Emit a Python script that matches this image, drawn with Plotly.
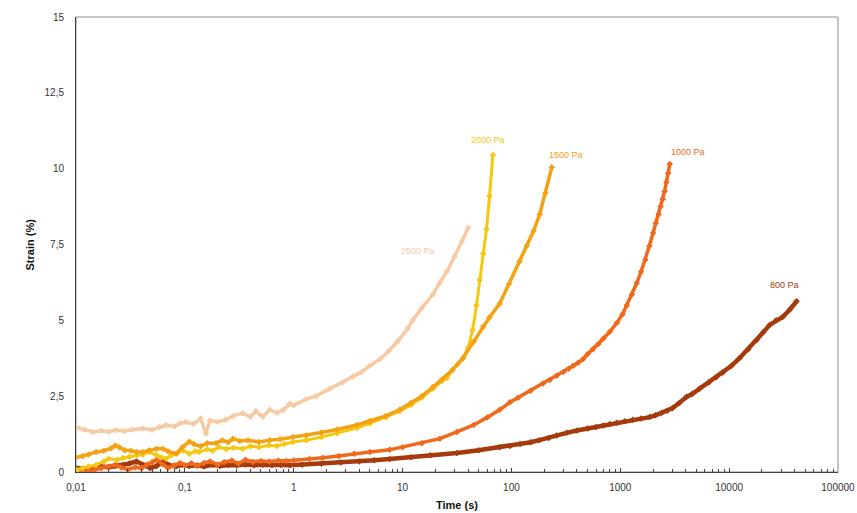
import numpy as np
import plotly.graph_objects as go

# Creep curves: time (s) vs strain (%) for each applied stress
t_2500 = [0.01, 0.012, 0.0143, 0.017, 0.02, 0.0233, 0.028, 0.033, 0.041, 0.05, 0.058, 0.067,
          0.08, 0.09, 0.102, 0.12, 0.14, 0.156, 0.17, 0.2, 0.237, 0.28, 0.34, 0.4, 0.45, 0.52,
          0.6, 0.7, 0.8, 0.92, 1.0, 1.3, 1.6, 2.15, 2.8, 3.5, 4.2, 5.0, 6.2, 7.5, 9, 11.2, 12.4,
          15, 19, 22, 25.5, 30, 35, 40]
s_2500 = [1.48, 1.40, 1.32, 1.36, 1.33, 1.38, 1.35, 1.40, 1.43, 1.39, 1.48, 1.54,
          1.50, 1.60, 1.65, 1.58, 1.76, 1.27, 1.70, 1.66, 1.72, 1.85, 1.94, 1.82, 2.00, 1.82,
          2.05, 1.95, 2.04, 2.25, 2.20, 2.40, 2.50, 2.75, 2.95, 3.15, 3.30, 3.50, 3.72, 4.00,
          4.30, 4.75, 5.00, 5.40, 5.85, 6.25, 6.60, 7.10, 7.60, 8.04]

t_2000 = [0.01, 0.0115, 0.013, 0.0153, 0.018, 0.020, 0.024, 0.027, 0.031, 0.036, 0.041, 0.047,
          0.055, 0.061, 0.067, 0.075, 0.085, 0.096, 0.11, 0.125, 0.135, 0.16, 0.18, 0.205, 0.24,
          0.28, 0.34, 0.4, 0.48, 0.59, 0.7, 0.82, 0.98, 1.3, 1.8, 2.5, 3.8, 5, 7, 9.4, 12, 15,
          19, 23, 25.5, 28.7, 32, 35.8, 40, 44, 47.8, 51, 55, 59, 63, 67.5]
s_2000 = [0.07, 0.12, 0.18, 0.23, 0.35, 0.44, 0.40, 0.46, 0.50, 0.55, 0.58, 0.66,
          0.55, 0.48, 0.44, 0.55, 0.62, 0.71, 0.60, 0.68, 0.66, 0.75, 0.70, 0.82, 0.76,
          0.80, 0.77, 0.85, 0.82, 0.88, 0.86, 0.92, 0.99, 1.05, 1.15, 1.28, 1.45, 1.60, 1.80,
          2.00, 2.22, 2.45, 2.75, 3.00, 3.10, 3.36, 3.55, 3.75, 4.10, 4.68, 5.50, 6.33, 7.20,
          8.00, 9.10, 10.45]

t_1500 = [0.01, 0.0115, 0.013, 0.0153, 0.018, 0.021, 0.023, 0.025, 0.028, 0.032, 0.036, 0.041,
          0.047, 0.055, 0.063, 0.07, 0.083, 0.095, 0.11, 0.121, 0.14, 0.16, 0.193, 0.22, 0.25,
          0.276, 0.32, 0.38, 0.48, 0.6, 0.75, 0.98, 1.3, 1.8, 2.5, 3.8, 5, 7, 9.4, 12, 15, 19,
          23, 28.7, 35.8, 45, 55, 63, 78, 95, 119, 138, 160, 182, 205, 235]
s_1500 = [0.48, 0.52, 0.58, 0.66, 0.70, 0.78, 0.87, 0.82, 0.72, 0.70, 0.66, 0.66,
          0.72, 0.77, 0.77, 0.68, 0.60, 0.82, 1.00, 0.92, 0.85, 0.95, 0.95, 1.05, 0.98,
          1.10, 1.02, 1.05, 0.99, 1.05, 1.08, 1.15, 1.20, 1.30, 1.40, 1.55, 1.68, 1.85, 2.05,
          2.28, 2.50, 2.80, 3.05, 3.36, 3.75, 4.30, 4.80, 5.10, 5.55, 6.20, 6.95, 7.45, 7.95,
          8.50, 9.20, 10.05]

t_1000 = [0.01, 0.0115, 0.013, 0.015, 0.017, 0.02, 0.023, 0.026, 0.03, 0.035, 0.04, 0.045,
          0.05, 0.055, 0.063, 0.07, 0.08, 0.09, 0.1, 0.115, 0.13, 0.15, 0.17, 0.2, 0.23, 0.27,
          0.31, 0.36, 0.42, 0.5, 0.6, 0.72, 0.85, 1.0, 1.4, 1.85, 2.6, 3.6, 5, 7.6, 10, 15, 22,
          31.6, 45, 60, 78, 97, 115, 150, 195, 225, 260, 300, 335, 370, 410, 453, 500, 560,
          630, 700, 800, 929, 1050, 1150, 1280, 1417, 1550, 1700, 1850, 2000, 2120, 2250,
          2350, 2460, 2550, 2650, 2750, 2850]
s_1000 = [0.10, 0.06, 0.02, 0.08, 0.12, 0.18, 0.24, 0.15, 0.08, 0.16, 0.12, 0.25,
          0.32, 0.40, 0.25, 0.13, 0.22, 0.30, 0.22, 0.29, 0.20, 0.30, 0.35, 0.24, 0.33, 0.38,
          0.28, 0.40, 0.34, 0.36, 0.35, 0.38, 0.36, 0.38, 0.43, 0.47, 0.53, 0.60, 0.66, 0.73,
          0.82, 0.95, 1.10, 1.32, 1.55, 1.80, 2.05, 2.30, 2.45, 2.68, 2.92, 3.03, 3.17, 3.30,
          3.40, 3.50, 3.60, 3.72, 3.88, 4.05, 4.22, 4.40, 4.62, 4.91, 5.20, 5.50, 5.85, 6.23,
          6.60, 7.00, 7.45, 7.88, 8.20, 8.50, 8.75, 9.00, 9.25, 9.55, 9.85, 10.15]

t_800 = [0.01, 0.012, 0.014, 0.017, 0.02, 0.023, 0.027, 0.031, 0.036, 0.042, 0.048, 0.055,
         0.063, 0.072, 0.083, 0.095, 0.11, 0.13, 0.15, 0.18, 0.21, 0.25, 0.3, 0.36, 0.43, 0.52,
         0.63, 0.76, 0.92, 1.2, 1.8, 2.7, 4, 5.5, 7.6, 12, 18, 31.6, 50, 78, 97, 120, 150, 180,
         220, 260, 322, 400, 500, 600, 700, 800, 929, 1100, 1300, 1550, 1860, 2100, 2400, 2700,
         3000, 3500, 4040, 4600, 5370, 6500, 7600, 8730, 10500, 12500, 15000, 17900, 20500,
         23600, 27000, 31000, 36000, 41700]
s_800 = [0.13, 0.10, 0.15, 0.18, 0.16, 0.20, 0.22, 0.28, 0.35, 0.22, 0.13, 0.20,
         0.35, 0.22, 0.18, 0.24, 0.20, 0.22, 0.18, 0.24, 0.20, 0.23, 0.22, 0.25, 0.22, 0.24,
         0.22, 0.23, 0.22, 0.24, 0.27, 0.31, 0.35, 0.39, 0.43, 0.49, 0.55, 0.63, 0.72, 0.82,
         0.86, 0.92, 0.98, 1.05, 1.12, 1.20, 1.29, 1.37, 1.43, 1.48, 1.53, 1.58, 1.62, 1.67,
         1.72, 1.76, 1.81, 1.87, 1.95, 2.02, 2.10, 2.28, 2.47, 2.58, 2.75, 2.95, 3.12, 3.28,
         3.50, 3.76, 4.05, 4.35, 4.60, 4.85, 5.00, 5.11, 5.35, 5.63]

x_tickvals = [0.01, 0.1, 1, 10, 100, 1000, 10000, 100000]
x_ticktext = ["0,01", "0,1", "1", "10", "100", "1000", "10000", "100000"]
y_tickvals = [0, 2.5, 5, 7.5, 10, 12.5, 15]
y_ticktext = ["0", "2,5", "5", "7,5", "10", "12,5", "15"]

# (name, times, strains, colour, line width, label offset in px)
series = [
    ("800 Pa", t_800, s_800, "#A53A0C", 4.5, (-12, 16)),
    ("1000 Pa", t_1000, s_1000, "#F0691A", 3.5, (18, 12)),
    ("2000 Pa", t_2000, s_2000, "#F4C810", 3, (-5, 15)),
    ("1500 Pa", t_1500, s_1500, "#F3A214", 3.5, (14, 12)),
    ("2500 Pa", t_2500, s_2500, "#F6CBA3", 3.5, (-50, -23)),
]

fig = go.Figure()
annotations = []
for name, t, s, col, lw, (dx, dy) in series:
    fig.add_trace(go.Scatter(
        x=t, y=s, name=name, mode="lines+markers",
        line=dict(color=col, width=lw),
        marker=dict(symbol="diamond", size=5, color=col),
        showlegend=False, hoverinfo="x+y+name",
    ))
    annotations.append(dict(
        x=np.log10(t[-1]), y=s[-1], xref="x", yref="y", text=name,
        showarrow=False, xshift=dx, yshift=dy,
        font=dict(family="Liberation Sans, Arial", size=9, color=col),
    ))

# axis titles placed in the margins
title_font = dict(family="Liberation Sans, Arial", size=11, color="#111111")
annotations.append(dict(x=0.5, y=-0.0725, xref="paper", yref="paper", text="<b>Time (s)</b>",
                        showarrow=False, xanchor="center", yanchor="middle", font=title_font))
annotations.append(dict(x=-0.0604, y=0.5, xref="paper", yref="paper", text="<b>Strain (%)</b>",
                        showarrow=False, textangle=-90, xanchor="center", yanchor="middle",
                        font=title_font))

minor_vals = [m * 10.0 ** e for e in range(-2, 5) for m in range(2, 10)]

fig.update_layout(
    width=857, height=513,
    margin=dict(l=76, r=19, t=17, b=41),
    paper_bgcolor="white", plot_bgcolor="white",
    font=dict(family="Liberation Sans, Arial", size=10, color="#333333"),
    annotations=annotations,
    shapes=[dict(type="rect", xref="paper", yref="paper", x0=0, x1=1, y0=0, y1=1,
                 line=dict(color="#8c8c8c", width=1), layer="below")],
    xaxis=dict(
        type="log", range=[-2, 5], automargin=False,
        tickvals=x_tickvals, ticktext=x_ticktext,
        ticks="inside", ticklen=4, tickcolor="#404040",
        minor=dict(tickvals=minor_vals, ticks="inside", ticklen=3, tickcolor="#404040"),
        showgrid=False, zeroline=False,
        showline=True, linecolor="#404040", linewidth=1,
        ticklabelstandoff=6,
    ),
    yaxis=dict(
        range=[0, 15], tickvals=y_tickvals, ticktext=y_ticktext, automargin=False,
        ticks="", showgrid=False, zeroline=False,
        showline=True, linecolor="#404040", linewidth=1,
        ticklabelstandoff=9,
    ),
)

fig.write_html("out.html")
